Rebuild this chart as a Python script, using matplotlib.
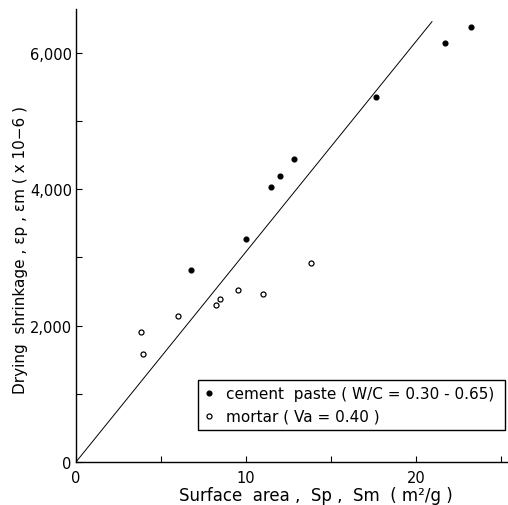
import matplotlib.pyplot as plt
from matplotlib.ticker import MultipleLocator, FuncFormatter

# cement paste (filled) and mortar (open) points
paste_s = [6.78, 9.97, 11.48, 11.97, 12.79, 17.64, 21.72, 23.22]
paste_eps = [2812, 3271, 4034, 4191, 4445, 5354, 6146, 6381]
mortar_s = [3.85, 3.93, 5.99, 8.25, 8.48, 9.52, 10.99, 13.81]
mortar_eps = [1907, 1584, 2142, 2307, 2387, 2528, 2464, 2924]
fit_s = [0, 20.93]
fit_eps = [0, 6459]

plt.rcParams['font.family'] = ['DejaVu Sans']

fig = plt.figure(figsize=(5.08, 5.06), dpi=100)
ax = fig.add_axes([76 / 508, 1 - 463 / 506, (508 - 76) / 508, (463 - 10) / 506])

ax.plot(fit_s, fit_eps, c="k", lw=0.7)
ax.plot(paste_s, paste_eps, "o", ms=3.4, mfc="k", mec="k", ls="none",
        label="cement  paste ( W/C = 0.30 - 0.65)")
ax.plot(mortar_s, mortar_eps, "o", ms=3.6, mfc="white", mec="k", mew=0.9,
        ls="none", label="mortar ( Va = 0.40 )")

ax.set_xlim(0, 25.4)
ax.set_ylim(0, 6645)
for side in ("top", "right"):
    ax.spines[side].set_visible(False)
for side in ("left", "bottom"):
    ax.spines[side].set_linewidth(1.0)

ax.xaxis.set_major_locator(MultipleLocator(10))
ax.xaxis.set_minor_locator(MultipleLocator(5))
ax.yaxis.set_major_locator(MultipleLocator(2000))
ax.yaxis.set_minor_locator(MultipleLocator(1000))
ax.yaxis.set_major_formatter(FuncFormatter(lambda v, p: f"{int(v):,}"))
ax.tick_params(which="both", direction="in", length=4, width=0.8, labelsize=10.5)
ax.tick_params(axis="y", pad=3)
ax.tick_params(axis="x", pad=6)

ax.set_xlabel("Surface  area ,  Sp ,  Sm  ( m²/g )", fontsize=12)
ax.set_ylabel("Drying  shrinkage , εp , εm ( x 10−6 )", fontsize=11)
ax.xaxis.set_label_coords(0.556, -0.052)
ax.yaxis.set_label_coords(-0.111, 0.47)

leg = ax.legend(loc="lower left", bbox_to_anchor=(198 / 508, 1 - 431 / 506, (505 - 198) / 508, (431 - 376) / 506),
                bbox_transform=fig.transFigure, mode="expand", fontsize=11, fancybox=False,
                edgecolor="k", framealpha=1, handlelength=0.6, handletextpad=0.8,
                borderaxespad=0, borderpad=0.4, labelspacing=0.5)
leg.get_frame().set_linewidth(1.0)

fig.savefig("out.png", dpi=100)
